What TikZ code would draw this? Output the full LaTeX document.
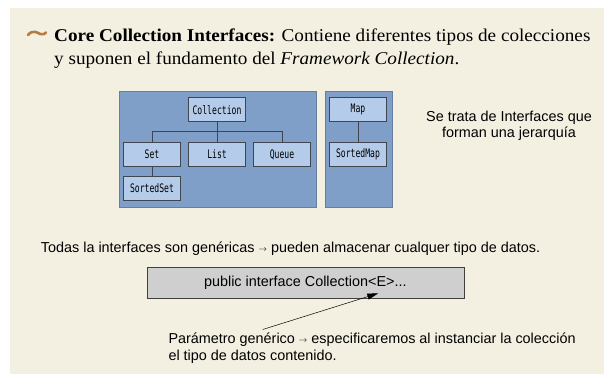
\documentclass[tikz,border=0pt]{standalone}
\usepackage{fontspec}
\setmainfont{Liberation Serif}
\setsansfont{Liberation Sans}
\setmonofont{DejaVu Sans Mono}
\usetikzlibrary{arrows.meta}
\definecolor{bgbeige}{HTML}{F4F0E1}
\definecolor{panelblue}{HTML}{809FC8}
\definecolor{boxblue}{HTML}{B4CBEA}
\definecolor{boxline}{HTML}{3F4650}
\definecolor{tildecol}{HTML}{B97B3F}
\definecolor{graybox}{HTML}{CFCFCF}
\newcommand{\smarrow}{\raisebox{0.12ex}{\footnotesize$\rightarrow$}}
\tikzset{
  panel/.style={fill=panelblue, draw=panelblue!80!black, line width=0.5pt},
  ifbox/.style={draw=boxline, fill=boxblue, line width=1pt, minimum width=57pt, minimum height=24pt, inner sep=0pt, font=\ttfamily\fontsize{9}{10}\selectfont},
  tree/.style={draw=boxline, line width=1pt},
  sans/.style={font=\sffamily\fontsize{14.4}{17.4}\selectfont, text=black},
}
\newcommand{\mtt}[1]{\scalebox{0.9}[1.3]{#1}}
\begin{document}
\begin{tikzpicture}[x=1pt,y=-1pt]
\useasboundingbox (0,0) rectangle (604,374);
\fill[bgbeige] (10,8.5) rectangle (604,374);
% title
\draw[tildecol, line width=2.6pt, line cap=round] (28,35) .. controls (33,29) and (38,33) .. (40,34) .. controls (43,35) and (45,34) .. (46,32.5);
\node[anchor=base west, inner sep=0pt, font=\fontsize{18}{23.3}\selectfont, align=left] (title) at (54,65)
 {\scalebox{1.065}[1]{\textbf{Core Collection Interfaces:} Contiene diferentes tipos de colecciones}\\\scalebox{1.065}[1]{y suponen el fundamento del \textit{Framework Collection}.}};
% panels
\node[panel, minimum width=197pt, minimum height=116pt, inner sep=0pt, anchor=north west] (lpanel) at (118.5,91) {};
\node[panel, minimum width=67pt, minimum height=116pt, inner sep=0pt, anchor=north west] (rpanel) at (324.5,91) {};
% boxes
\node[ifbox] (coll) at (217,109.7) {\mtt{Collection}};
\node[ifbox] (set) at (152,154.5) {\mtt{Set}};
\node[ifbox] (list) at (217,154.5) {\mtt{List}};
\node[ifbox] (queue) at (282,154.5) {\mtt{Queue}};
\node[ifbox] (sset) at (152,188) {\mtt{SortedSet}};
\node[ifbox] (map) at (358,109.7) {\mtt{Map}};
\node[ifbox] (smap) at (358,154.5) {\mtt{SortedMap}};
\coordinate (bus) at (217,131.7);
\draw[tree] (coll.south) -- (list.north);
\draw[tree] (set.north) |- (bus) -| (queue.north);
\draw[tree] (set.south) -- (sset.north);
\draw[tree] (map.south) -- (smap.north);
% right text
\node[sans, font=\sffamily\fontsize{14.4}{16.5}\selectfont, align=center, inner sep=0pt, anchor=base] (note) at (509,138) {Se trata de Interfaces que\\forman una jerarquía};
% generics line
\node[sans, anchor=base west, inner sep=0pt] (todas) at (40.7,252.7) {Todas la interfaces son genéricas \smarrow{} pueden almacenar cualquer tipo de datos.};
\node[draw=black!75, fill=graybox, line width=0.6pt, minimum width=317pt, minimum height=31pt, inner sep=0pt, sans] (code) at (305.3,282.8) {public interface Collection<E>...};
\node[sans, anchor=base west, align=left, inner sep=0pt] (param) at (168.3,360.7) {Parámetro genérico \smarrow{} especificaremos al instanciar la colección\\el tipo de datos contenido.};
\coordinate (tail) at (262.7,329.5);
\coordinate (tip) at (378.3,293.3);
\draw[line width=0.5pt, -{Triangle[length=11pt,width=6pt]}] (tail) -- (tip);
\end{tikzpicture}
\end{document}
